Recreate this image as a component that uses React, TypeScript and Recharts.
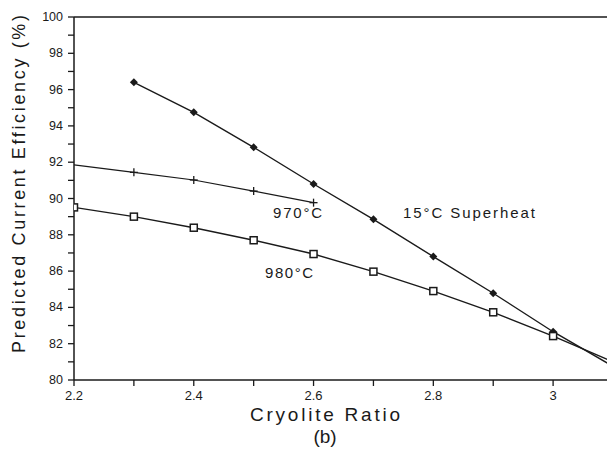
import React from "react";
import { LineChart, Line, XAxis, YAxis, ReferenceLine } from "recharts";

// cryolite ratio vs predicted current efficiency (%)
const ratios15 = [2.3, 2.4, 2.5, 2.6, 2.7, 2.8, 2.9, 3.0, 3.1];
const superheat15 = [96.4, 94.75, 92.82, 90.8, 88.85, 86.8, 84.78, 82.66, 80.75];

const ratios970 = [2.2, 2.3, 2.4, 2.5, 2.6];
const temp970 = [91.85, 91.44, 91.02, 90.41, 89.77];

const ratios980 = [2.2, 2.3, 2.4, 2.5, 2.6, 2.7, 2.8, 2.9, 3.0, 3.1];
const temp980 = [89.51, 89.0, 88.39, 87.7, 86.94, 85.97, 84.9, 83.73, 82.42, 81.0];

const xTicks = [2.2, 2.3, 2.4, 2.5, 2.6, 2.7, 2.8, 2.9, 3.0];
const xTickLabels = ["2.2", "", "2.4", "", "2.6", "", "2.8", "", "3"];
const yTicks = [80, 81, 82, 83, 84, 85, 86, 87, 88, 89, 90, 91, 92, 93, 94, 95, 96, 97, 98, 99, 100];
const yTickLabels = ["80", "", "82", "", "84", "", "86", "", "88", "", "90", "", "92", "", "94", "", "96", "", "98", "", "100"];

const data15 = ratios15.map((r, i) => ({ ratio: r, value: superheat15[i] }));
const data970 = ratios970.map((r, i) => ({ ratio: r, value: temp970[i] }));
const data980 = ratios980.map((r, i) => ({ ratio: r, value: temp980[i] }));

const font = "'Liberation Sans', 'DejaVu Sans', sans-serif";
const ink = "#1a1a1a";

const Diamond = (p: any) => {
  const { cx, cy } = p;
  if (cx == null || cy == null) return <g key={p.key} />;
  return (
    <polygon
      key={p.key}
      points={`${cx},${cy - 4} ${cx + 4},${cy} ${cx},${cy + 4} ${cx - 4},${cy}`}
      fill={ink}
    />
  );
};

const Plus = (p: any) => {
  const { cx, cy, index } = p;
  if (cx == null || cy == null || index === 0) return <g key={p.key} />;
  return (
    <g key={p.key} stroke={ink} strokeWidth={1.3}>
      <line x1={cx - 4} y1={cy} x2={cx + 4} y2={cy} />
      <line x1={cx} y1={cy - 4} x2={cx} y2={cy + 4} />
    </g>
  );
};

const Square = (p: any) => {
  const { cx, cy } = p;
  if (cx == null || cy == null) return <g key={p.key} />;
  return (
    <rect key={p.key} x={cx - 3.5} y={cy - 3.5} width={7} height={7} fill="#fff" stroke={ink} strokeWidth={1.5} />
  );
};

const XTick = (p: any) => {
  const i = xTicks.indexOf(p.payload.value);
  const label = i >= 0 ? xTickLabels[i] : "";
  return (
    <text x={p.x} y={p.y + 12} textAnchor="middle" fontFamily={font} fontSize={13} fill={ink}>
      {label}
    </text>
  );
};

const YTick = (p: any) => {
  const i = yTicks.indexOf(p.payload.value);
  const label = i >= 0 ? yTickLabels[i] : "";
  return (
    <text x={p.x - 3} y={p.y + 4} textAnchor="end" fontFamily={font} fontSize={12.5} fill={ink}>
      {label}
    </text>
  );
};

export default function App() {
  return (
    <div style={{ position: "fixed", left: 0, top: 0, width: 607, height: 449, background: "#fff" }}>
      <LineChart width={607} height={449} margin={{ top: 17, right: 0, left: 0, bottom: 0 }}>
        <XAxis
          dataKey="ratio"
          type="number"
          domain={[2.2, 3.09]}
          allowDataOverflow
          ticks={xTicks}
          interval={0}
          height={69}
          tickSize={6}
          tick={XTick}
          axisLine={{ stroke: ink, strokeWidth: 1.5 }}
          tickLine={{ stroke: ink, strokeWidth: 1.3 }}
        />
        <YAxis
          type="number"
          domain={[80, 100]}
          ticks={yTicks}
          interval={0}
          width={74}
          tickSize={6}
          tick={YTick}
          axisLine={{ stroke: ink, strokeWidth: 1.5 }}
          tickLine={{ stroke: ink, strokeWidth: 1.3 }}
        />
        <ReferenceLine y={100} stroke={ink} strokeWidth={1.5} />
        <Line data={data15} dataKey="value" stroke={ink} strokeWidth={1.4} dot={Diamond} isAnimationActive={false} />
        <Line data={data970} dataKey="value" stroke={ink} strokeWidth={1.2} dot={Plus} isAnimationActive={false} />
        <Line data={data980} dataKey="value" stroke={ink} strokeWidth={1.4} dot={Square} isAnimationActive={false} />
        <text x={273} y={218} fontFamily={font} fontSize={15} fill={ink} textLength={49}>970°C</text>
        <text x={403} y={218} fontFamily={font} fontSize={15} fill={ink} textLength={132}>15°C Superheat</text>
        <text x={265} y={278} fontFamily={font} fontSize={15} fill={ink} textLength={48}>980°C</text>
        <text x={325} y={421} textAnchor="middle" fontFamily={font} fontSize={19} fill={ink} textLength={150}>Cryolite Ratio</text>
        <text x={325} y={443} textAnchor="middle" fontFamily={font} fontSize={19} fill={ink}>(b)</text>
        <text
          transform="rotate(-90)"
          x={-184}
          y={25}
          textAnchor="middle"
          fontFamily={font}
          fontSize={18}
          fill={ink}
          textLength={338}
        >
          Predicted Current Efficiency (%)
        </text>
      </LineChart>
    </div>
  );
}
